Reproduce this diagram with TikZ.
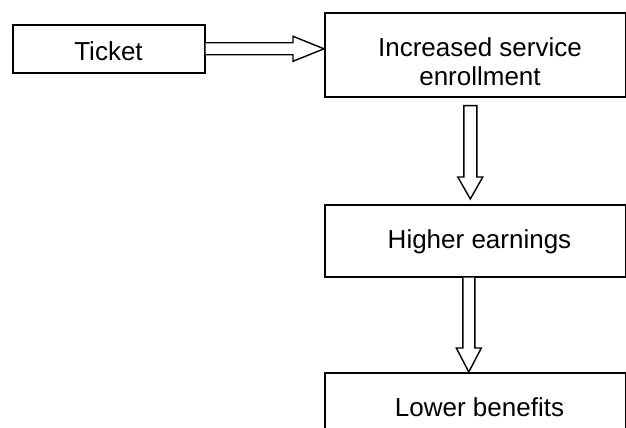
\documentclass[tikz,border=0pt]{standalone}
\usepackage{fontspec}
\setmainfont{Liberation Sans}
\usetikzlibrary{calc}
\tikzset{
  box/.style={draw, line width=1.6pt, rectangle, inner sep=0pt, anchor=north west},
  lbl/.style={inner sep=0pt, font=\fontsize{26}{29}\selectfont},
  arr/.style={draw, line width=1.4pt, line join=miter, fill=white}
}
\begin{document}
\begin{tikzpicture}[x=1pt,y=-1pt]
\useasboundingbox (0,0) rectangle (626,428);
\clip (0,0) rectangle (626,428);
\fill[white] (0,0) rectangle (626,428);
% boxes
\node[box, minimum width=192pt, minimum height=48pt] (tic) at (12,24) {};
\node[box, minimum width=301pt, minimum height=84pt] (inc) at (324,12) {};
\node[box, minimum width=301pt, minimum height=72pt] (hi) at (324,204) {};
\node[box, minimum width=301pt, minimum height=72pt] (lo) at (324,372) {};
% labels
\node[lbl, anchor=base] (ticT) at (108.5,60.3) {Ticket};
\node[lbl, align=center, text height=47.6pt, text depth=0pt, anchor=center] (incT) at (480,61.7) {Increased service\\enrollment};
\node[lbl, anchor=base] (hiT) at (479.5,248.3) {Higher earnings};
\node[lbl, anchor=base] (loT) at (479.5,416) {Lower benefits};
% arrow 1
\coordinate (a1s) at (tic.east);
\coordinate (a1e) at (tic.east -| inc.west);
\draw[arr] ($(a1s)+(0,-6)$) -- ($(a1e)+(-31,-6)$) -- ($(a1e)+(-31,-12.5)$) -- (a1e)
  -- ($(a1e)+(-31,12.5)$) -- ($(a1e)+(-31,6)$) -- ($(a1s)+(0,6)$);
% arrow 2
\coordinate (a2s) at ($(inc.south)+(-5,8)$);
\coordinate (a2e) at ($(hi.north)+(-5,-5)$);
\draw[arr] ($(a2s)+(-6.5,0)$) -- ($(a2e)+(-6.5,-22)$) -- ($(a2e)+(-12.5,-22)$) -- (a2e)
  -- ($(a2e)+(12.5,-22)$) -- ($(a2e)+(6.5,-22)$) -- ($(a2s)+(6.5,0)$) -- cycle;
% arrow 3
\coordinate (a3s) at ($(hi.south)+(-6.5,0)$);
\coordinate (a3e) at ($(lo.north)+(-6.5,0)$);
\draw[arr] ($(a3s)+(-6,0)$) -- ($(a3e)+(-6,-24)$) -- ($(a3e)+(-12.5,-24)$) -- (a3e)
  -- ($(a3e)+(12.5,-24)$) -- ($(a3e)+(6,-24)$) -- ($(a3s)+(6,0)$);
\end{tikzpicture}
\end{document}
